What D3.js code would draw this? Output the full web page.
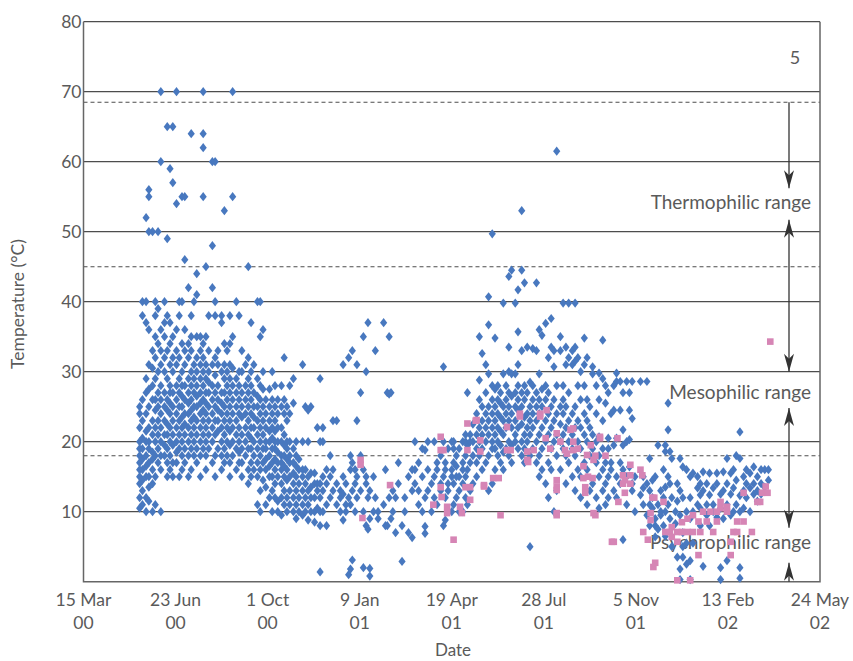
<!DOCTYPE html>
<html><head><meta charset="utf-8">
<script src="https://cdn.jsdelivr.net/npm/d3@7"></script>
<style>body{margin:0;background:#fff;}svg{display:block;font-family:Lato,"Open Sans",sans-serif;}</style>
</head><body><svg id="c" width="853" height="661"></svg>
<script>
// ---- data ----
const startDate = new Date(2000, 2, 15);
const endDate = new Date(2002, 4, 24);
const tickDays = [0, 100, 200, 300, 400, 500, 600, 700, 800];
const tickTop = ["15 Mar", "23 Jun", "1 Oct", "9 Jan", "19 Apr", "28 Jul", "5 Nov", "13 Feb", "24 May"];
const tickBottom = ["00", "00", "00", "01", "01", "01", "01", "02", "02"];
const yTicks = [10, 20, 30, 40, 50, 60, 70, 80];
const rangeBounds = [68.5, 45, 18];
const rangeNames = ["Thermophilic range", "Mesophilic range", "Psychrophilic range"];
const rangeLabelTemps = [54.2, 27.1, 5.6];
const arrowSegments = [[68.5, 56.2], [51.7, 30], [24.8, 7.7], [2.7, 0]]; // [from, to]
const panelLabel = "5";

// blue series: [day since 15 Mar 00, [temperatures °C]]
const blueCols = [
[61,[10.5,12,14,15,16,17,18,19,20,22,24,25]],
[64,[11,13,14.5,16,17.5,19,20.5,23,26,38,40]],
[68,[10,12,15,16.5,18,20,21.5,24,27,29,37,40,52]],
[71,[11.5,13.5,15,17,19,20,22,25,27.5,31,36,50,55,56]],
[75,[10,14,16,17.5,18.5,21,23,26,28,30.5,33,50]],
[78,[11,15,18,20,22,24.5,26,29,32,35,38,40]],
[81,[17,19,21,23,25,27,30,34,39,50]],
[84,[10,16,18,20,22,24,26,28,31,33,36,60,70]],
[88,[18,19.5,21,23,25,27,30,32,35,37,40]],
[91,[15,17,19,21,22.5,24.5,26,29,33,38,49,65]],
[94,[16,18,20,22,24,25.5,27,28,31,34,37,59]],
[97,[15,17,19.5,21,23,25,27,30,32,35,57,65]],
[101,[17,18.5,20,22,24,26,28,31,33,36,54,70]],
[104,[15,19,21,23,25,27,29,32,38,40]],
[107,[16,18,20,22,23.5,25,26.5,28,30,34,40,55]],
[110,[17,19,21,22.5,24,26,28,31,33,36,46,55]],
[114,[15,18,20,22,24,25.5,27,29,32,34,42]],
[117,[16,19,21,23,24.5,26,28,30,33,35,38,64]],
[120,[18,20,22,23.5,25,27,29,31,40]],
[123,[17,19,21,23,25,26.5,28,30,32,35,41,44]],
[127,[15,18,20,22,24,25.5,27,29,31,33,35]],
[130,[19,21,23,24.5,26,28,30,32,34,55,62,64,70]],
[133,[16,18,20,22,24,25.5,27,29,31,35,45]],
[136,[19,21,23,25,27,28.5,30,33,38]],
[140,[17,20,22,24,26,28,31,42,48,60]],
[143,[15,18,21,23,25,27,29.5,32,38,40,60]],
[146,[19,21.5,23,24.5,26,28,31,33]],
[150,[16,18,20,22,24,25.5,27,30,37,38]],
[153,[17,19,21,23,25,27,29,31,34,53]],
[156,[18,20,22,24,26,28,30,33]],
[159,[15,17,19.5,21.5,23,25,27,29,31,34,38]],
[162,[18,20,22,24,26,28,30.5,35,55,70]],
[166,[16,19,21,23,25,27,29,40]],
[169,[17,18.5,20,22,24,26,28,30,38]],
[172,[15,17,19,21,23.5,25,27,30,33]],
[176,[18,20,22,24,26,28,31]],
[179,[14,16,19,21,23,25,27,29,32,45]],
[182,[15,17,19,20.5,22,24,26,28,30,37]],
[185,[16,18,20,22,23.5,25,27,31]],
[189,[11,15,17,19,21,23,25,26.5,29,40]],
[192,[10,13,16,18,20,22,24,26,28,35,40]],
[195,[14.5,17,19,21,23,25,27.5,30,36]],
[198,[11,13.5,16,17.5,19,20,22,24,26]],
[202,[12,15,16.5,18,20,21.5,23,25,27.5]],
[205,[10,13,15,17,19,20.5,22,24,26,30]],
[208,[12,14,16,17.5,19,20,21.5,23,25,28]],
[211,[10,11.5,15,17,18.5,20,22,24,26]],
[215,[9.5,12,14,16,17,18,20,22,25,28]],
[218,[11,13,15,16.5,18,19.5,21,24,26,32]],
[221,[10,12,14.5,16,17.5,19,20,23,25]],
[224,[11,13,15,17,18,20,24,28]],
[228,[10,12,14,15.5,17,19,25.5,29]],
[231,[9,11,13,15,16.5,18,20]],
[234,[10,12,14,16,17.5]],
[238,[9.5,11,13,15,16,20,31]],
[241,[10,12,14,16,25]],
[244,[8.8,11,13,15,20,24.5]],
[247,[10,12,13.5,15.5,25]],
[251,[8.5,10,12,14,15.5]],
[254,[10.5,13,14,22]],
[257,[1.4,8,10,12,14,20,29]],
[260,[10,13,15,20,22]],
[264,[8,11,14,16]],
[268,[12,15,18]],
[271,[13,16,23]],
[275,[11,14,23]],
[279,[10,12,13]],
[282,[8.8,12.5,15,31]],
[285,[10,11,14]],
[288,[1,12,32]],
[290,[1.8,11,16,18]],
[292,[3.1,13,17,33]],
[295,[10,14,16]],
[297,[12,15,23,31]],
[301,[13,18,27]],
[304,[2,10,16,35]],
[307,[8,14,15,30]],
[309,[7.5,12,37]],
[311,[0.8,1.9,9,13]],
[315,[10,15]],
[317,[12,33]],
[320,[9,10]],
[326,[11,37]],
[328,[8,16]],
[330,[8,27]],
[332,[12,26.8,35]],
[334,[9,27]],
[336,[10,13]],
[339,[7,12]],
[342,[14,17]],
[346,[2.9,8]],
[349,[10,12]],
[353,[7,15]],
[357,[6.3,13,16]],
[360,[14,16,20]],
[364,[11,13,17]],
[368,[10,15,19]],
[371,[6.9,7.9,12,18.8]],
[374,[13,16,20]],
[378,[10,14]],
[381,[12,15,20]],
[384,[11,16,17]],
[388,[13,14,18]],
[391,[8,15,20,30.7]],
[393,[8.8,12,16,17]],
[396,[13,14,19]],
[400,[10,15,16,20]],
[402,[11,14,17,19,20]],
[405,[12,15,16.5,18]],
[408,[10,13,15,19]],
[412,[10,14,16,17,20]],
[415,[12,15,18,20,21]],
[417,[11,16,19.5,27]],
[420,[13,17,20,21]],
[423,[14,18,20,22.5]],
[427,[15,17,19,21,24]],
[430,[18,20,22,26,28.8,35]],
[433,[16,19,21,23,25,32.6]],
[437,[17,20,22,24,27,31]],
[440,[13,18,21,23,25,29.7,36.7,40.7]],
[444,[14,19,20,22,24,26,28,49.7]],
[447,[16,19,21,23,25,27.5,34.8]],
[450,[18,20,22,24,26,28]],
[453,[17,19.5,21.5,23.5,25.5,27]],
[456,[16,18.5,21,23,25,29.7,39.8]],
[459,[19,22,24,26,28]],
[462,[18,20,23,25,27,30,33.5,43.6]],
[465,[17,19.5,22,24,26.5,29.7,44.5]],
[469,[20,21,23,25,27,29.7,39.8]],
[472,[19,22,24.5,26,28,31,35.7,41.7]],
[476,[18,20,22.5,25,27,33,44.5,53]],
[479,[17,19,21,23.5,26,28,42.7]],
[482,[20,22,24,27,33.5]],
[485,[5,18,21,23,25,28.5]],
[488,[19,22,24,26,28,33.3]],
[492,[17,20,23,25,27,33,42.7]],
[495,[15,18,21,24,26,29.7,36]],
[498,[16,19,22,25,27.5,35.2]],
[502,[14,20,23,26,28,36.9]],
[505,[12,17,21,24,27,32]],
[508,[16,19,22,25,33.5,37.6]],
[511,[10,20,23,26,30.7,33]],
[514,[13,18,21,24,28,61.5]],
[518,[16,20,22.5,25,33,35]],
[521,[19,21,24,26,28,39.8]],
[524,[14,18,22,25,31,33.5]],
[527,[17,20,23,27,32,39.8]],
[531,[15,19,21,24,31,33]],
[534,[13,18,22,25,31.5,33.5,39.8]],
[537,[16,20,23,28,32]],
[540,[12,15,19,22,26,30]],
[544,[17,21,24,28,31,34.8]],
[547,[11,16,20,23,26,32]],
[550,[13,18,22,25]],
[553,[14,19,21,29.7,30.7]],
[557,[12,17,20,24,28]],
[560,[10.5,15,18,20.7,26,29.8]],
[564,[13,16,19,23,29,34.5]],
[567,[11,14,17,25.5,28]],
[570,[12,15,19,20.5,27]],
[573,[16,17,24]],
[576,[13,19.5,24.5,28]],
[579,[12,15,20.5,28.6,29.8]],
[583,[14,17,24.5,28.6]],
[586,[6,16,19.5,21.7,27]],
[590,[11,15,20,28.6]],
[593,[16.4,20.3,24.5,27]],
[596,[13,14,23.3,28.6]],
[599,[10,15]],
[605,[12.4,28.6]],
[608,[11,13.4,15]],
[612,[9.5,14,28.6]],
[615,[8,11,13,17.6]],
[618,[10.5,12,14.5]],
[621,[6.4,8,9,15]],
[624,[7.5,11,19.5]],
[627,[9.5,10,13]],
[630,[8,12,16]],
[632,[6.5,10,13.5,18.6,19.5]],
[635,[11,15,21.7,25.5]],
[637,[9,14,18.6]],
[639,[5,12,17.6]],
[643,[8.3,10]],
[645,[3.5,11.5,14]],
[648,[0.3,1.8,9.5,13,17.6]],
[651,[3.5,5,7,12,16.4]],
[655,[2.5,5.5,10,16]],
[659,[0.3,3,9,12,15]],
[662,[5.5,10,15.5]],
[667,[11,13.4,15]],
[670,[8,10.5,12.4,14]],
[673,[2.2,13,15.7]],
[677,[9.5,11,14]],
[680,[8,12.4,15.5]],
[684,[10,11,13.4]],
[688,[9.2,14,15.5]],
[692,[0.3,2,10.5,12.5]],
[695,[9,13,15.7]],
[699,[3,11,14,17.6]],
[703,[9.5,12.5,15.5]],
[706,[10,13.4,16]],
[709,[11,14.5,18]],
[713,[0.5,2,10,12.3,17.6,21.4]],
[717,[10.5,13,15]],
[720,[12,14,16]],
[724,[10,13.4,15.5]],
[728,[12.5,14,16.4]],
[732,[11.5,13,15]],
[736,[12.5,14,16]],
[740,[13.5,16]],
[744,[14.5,16]]
];

// pink series: [day since 15 Mar 00, temperature °C]
const pinkPts = [
[301,17.4],[301,16.7],[303,9.1],[333,13.8],[380,11],[389,12.1],[391,18.8],[395,9.8],[402,6],[411,9.8],
[417,22.6],[420,11.7],[427,23.1],[431,18.6],[435,13.6],[445,14.8],[451,14.8],[453,9.5],[460,18.8],[464,18.8],
[474,23.6],[482,18.6],[483,17.1],[489,18.8],[496,23.6],[502,20.5],[507,19],[514,14.5],[514,13.6],[514,9.5],
[518,20],[523,18.8],[529,21.7],[532,20],[532,18.8],[537,19],[543,16.5],[545,12.7],[548,15],[551,19.5],
[556,9.5],[556,18],[561,20.5],[567,18],[574,5.7],[580,20.5],[581,11.4],[586,15.2],[586,14],[588,12.7],
[588,14.5],[594,16.7],[594,15.2],[594,14],[605,16],[607,15.2],[608,7.1],[613,6],[616,9.8],[616,8.8],
[618,12],[619,2.1],[620,12],[621,2.7],[630,11.4],[632,7.1],[637,7.1],[639,7.8],[639,6.4],[645,7.1],
[645,5.7],[645,0.2],[650,7.1],[650,8.5],[656,7.1],[656,9],[659,0.2],[662,7.1],[662,9.5],[668,8.6],
[668,3.8],[670,7.1],[673,10],[677,8.6],[681,10],[684,7.1],[688,10],[688,8.6],[692,11.4],[692,10.5],
[699,10],[699,10.7],[703,5.7],[703,3.8],[706,7.1],[710,8.6],[710,7.1],[717,12.7],[717,8.6],[726,7.1],
[732,11.4],[735,11.4],[737,12.7],[741,13.6],[743,12.7],[746,34.3],
[426,23],[474,24],[496,24],[503,24.5],[460,22.1],[514,21.2],[532,21.9],[561,20.7],[431,20.2],[482,17.4],
[525,18.3],[547,18.1],[554,17.4],[417,18.8],[435,13.8],[543,14.8],[553,14.8],[415,13.5],[420,13.5],[388,13.5],
[514,13.1],[545,13.5],[395,10.7],[409,10.7],[514,9.8],[554,9.8],[576,5.7],[388,18.8],[388,20.7]
];

// ---- drawing ----
const svg = d3.select("#c");
const pLeft = 83.5, pRight = 820, pTop = 21.7, pBottom = 581.7;
const dayMs = 86400000;
const toDate = d => new Date(startDate.getTime() + d * dayMs);
const x = d3.scaleTime().domain([startDate, endDate]).range([pLeft, pRight]);
const y = d3.scaleLinear().domain([0, 80]).range([pBottom, pTop]);
const lineCol = "#4d4d4d", textCol = "#5a5a5a";

// grid lines
svg.append("g").selectAll("line").data(yTicks).join("line")
  .attr("x1", pLeft).attr("x2", pRight).attr("y1", d => y(d)).attr("y2", d => y(d))
  .attr("stroke", lineCol).attr("stroke-width", 1.3);
svg.append("g").selectAll("line").data(rangeBounds).join("line")
  .attr("x1", pLeft).attr("x2", pRight).attr("y1", d => y(d)).attr("y2", d => y(d))
  .attr("stroke", lineCol).attr("stroke-width", 1.1).attr("stroke-dasharray", "4,3");
// frame
svg.append("path").attr("d", `M${pLeft},${pTop}V${pBottom}H${pRight}V${pTop}`)
  .attr("fill", "none").attr("stroke", "#666").attr("stroke-width", 1.5);

// y tick labels
svg.append("g").selectAll("text").data(yTicks).join("text")
  .attr("x", pLeft - 2).attr("y", d => y(d)).attr("dy", "0.36em")
  .attr("text-anchor", "end").attr("fill", textCol).attr("font-size", 17.5).text(d => d);
// x tick labels
const xt = svg.append("g").selectAll("g").data(tickDays).join("g")
  .attr("transform", d => `translate(${x(toDate(d))},0)`);
xt.append("text").attr("y", 606).attr("text-anchor", "middle").attr("fill", textCol)
  .attr("font-size", 17.5).text((d, i) => tickTop[i]);
xt.append("text").attr("y", 629).attr("text-anchor", "middle").attr("fill", textCol)
  .attr("font-size", 17.5).text((d, i) => tickBottom[i]);

// axis titles
svg.append("text").attr("x", 453).attr("y", 656).attr("text-anchor", "middle")
  .attr("fill", textCol).attr("font-size", 17).text("Date");
svg.append("text").attr("transform", "translate(24,304) rotate(-90)").attr("text-anchor", "middle")
  .attr("fill", textCol).attr("font-size", 17.5).text("Temperature (°C)");
svg.append("text").attr("x", 795).attr("y", 58).attr("dy", "0.36em").attr("text-anchor", "middle")
  .attr("fill", textCol).attr("font-size", 18).text(panelLabel);

// range labels
svg.append("g").selectAll("text").data(rangeNames).join("text")
  .attr("x", 811).attr("y", (d, i) => y(rangeLabelTemps[i])).attr("dy", "0.36em")
  .attr("text-anchor", "end").attr("fill", textCol).attr("font-size", 19).text(d => d);

// arrows
const ax = 789;
const ag = svg.append("g");
arrowSegments.forEach(([a, b], i) => {
  const y1 = y(a), y2 = y(b);
  ag.append("line").attr("x1", ax).attr("x2", ax).attr("y1", y1).attr("y2", y2)
    .attr("stroke", "#333").attr("stroke-width", 1.3);
  const heads = [];
  if (i === 0) heads.push([y2, 1]);
  else if (i === arrowSegments.length - 1) heads.push([y1, -1]);
  else { heads.push([y1, -1]); heads.push([y2, 1]); }
  heads.forEach(([ty, dir]) => {
    ag.append("path").attr("d", `M${ax},${ty}L${ax - 5},${ty - dir * 18}L${ax},${ty - dir * 13}L${ax + 5},${ty - dir * 18}Z`)
      .attr("fill", "#333");
  });
});

// points
const bluePts = blueCols.flatMap(([d, ts]) => ts.map(t => [d, t]));
svg.append("g").selectAll("path").data(bluePts).join("path")
  .attr("transform", d => `translate(${x(toDate(d[0]))},${y(d[1])})`)
  .attr("d", "M0,-4.6L3.6,0L0,4.6L-3.6,0Z").attr("fill", "#4878bf");
svg.append("g").selectAll("rect").data(pinkPts).join("rect")
  .attr("x", d => x(toDate(d[0])) - 3.3).attr("y", d => y(d[1]) - 3.3)
  .attr("width", 6.6).attr("height", 6.6).attr("fill", "#d685b5");
</script></body></html>
